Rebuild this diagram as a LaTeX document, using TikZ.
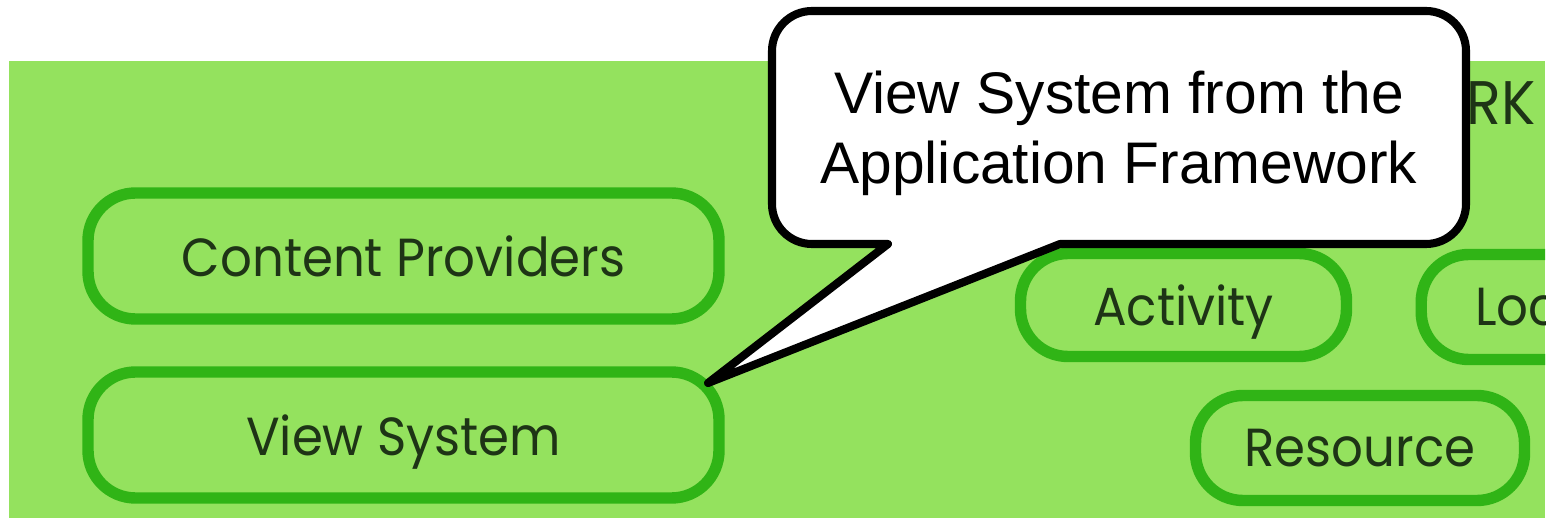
\documentclass[tikz,border=0pt]{standalone}
\usepackage{fontspec}
\setmainfont{Liberation Sans}
\newfontfamily\pillfont[FakeStretch=0.93]{Poppins}
\definecolor{leaf}{HTML}{94E25E}
\definecolor{stem}{HTML}{30B416}
\definecolor{bark}{HTML}{1E3416}

\tikzset{
  pill/.style={draw=stem,line width=6.5pt,rounded corners=0.95cm,
    font=\pillfont\fontsize{30.5}{34}\selectfont,text=bark,inner sep=0pt,text depth=0pt},
  bubble/.style={draw=black,line width=4.6pt,fill=white,line join=round}
}

\begin{document}
\begin{tikzpicture}
\useasboundingbox (0,0) rectangle (31,10.36);
\fill[leaf] (0.18,0) rectangle (30.9,9.14);
\begin{scope}
\clip (0.18,0) rectangle (30.9,9.14);
\node[pill,minimum width=12.62cm,minimum height=2.52cm] (cprov) at (8.07,5.24) {Content Providers};
\node[pill,minimum width=12.62cm,minimum height=2.52cm] (vsys) at (8.07,1.66) {View System};
\node[pill,minimum width=6.52cm,minimum height=2.06cm] (act) at (23.67,4.26) {Activity};
\node[pill,anchor=west,minimum height=2.1cm,text width=6cm,inner xsep=1.08cm,align=left] (loc) at (28.31,4.22) {Loc};
\node[pill,minimum width=6.58cm,minimum height=2.1cm] (res) at (27.2,1.4) {Resource};
\node[anchor=base east,font=\pillfont\fontsize{35}{38}\selectfont,text=bark,inner sep=0pt] (head) at (30.72,7.86) {RK};
\end{scope}
% callout
\coordinate (tip) at (14.16,2.7);
\draw[bubble] (21.2,5.48) -- (28.52,5.48) arc[start angle=-90,end angle=0,radius=0.8]
  -- (29.32,9.34) arc[start angle=0,end angle=90,radius=0.8]
  -- (16.24,10.14) arc[start angle=90,end angle=180,radius=0.8]
  -- (15.44,6.28) arc[start angle=180,end angle=270,radius=0.8]
  -- (17.76,5.48) -- (tip) -- cycle;
\node[align=center,font=\fontsize{33.4}{39.7}\selectfont] (note) at (22.38,7.7)
  {View System from the\\Application Framework};
\end{tikzpicture}
\end{document}
